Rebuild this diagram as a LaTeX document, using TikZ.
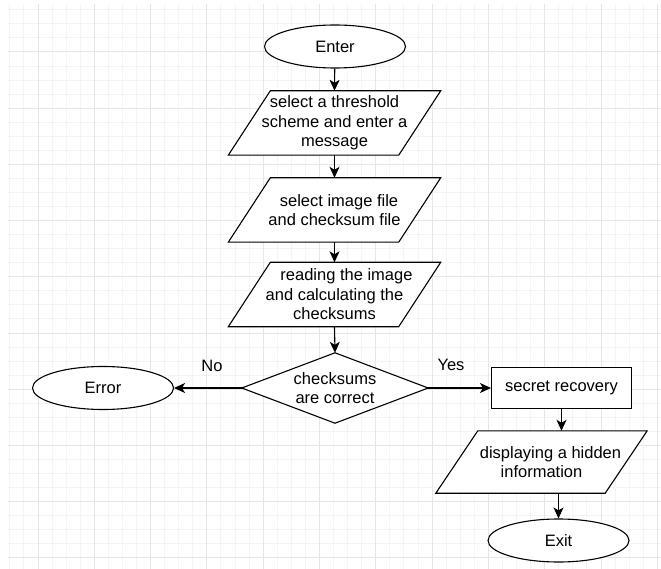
\documentclass[tikz,border=0pt]{standalone}
\usepackage{fontspec}
\setmainfont{Liberation Sans}
\usetikzlibrary{arrows.meta,shapes.geometric}
\pgfdeclarelayer{bg}
\pgfsetlayers{bg,main}
\definecolor{minorgrid}{HTML}{F4F4F4}
\definecolor{majorgrid}{HTML}{E6E6E6}
\newcommand\drawpara[1]{%
  \draw[shapeline,fill=white] ([xshift=21]#1.north west) -- ([xshift=21]#1.north east)
    -- ([xshift=-21]#1.south east) -- ([xshift=-21]#1.south west) -- cycle;}
\begin{document}
\begin{tikzpicture}[x=1pt,y=-1pt,
  every node/.style={font=\fontsize{16.5}{19.5}\selectfont, inner sep=0pt, align=center},
  shapeline/.style={draw=black, line width=1.1pt, line join=miter},
  terminal/.style={ellipse, shapeline, fill=white, minimum width=141pt, minimum height=43pt},
  parabox/.style={minimum width=170pt, minimum height=64pt},
  decisionbox/.style={minimum width=186pt, minimum height=70pt},
  procbox/.style={rectangle, shapeline, fill=white, minimum width=140pt, minimum height=41pt},
  flow/.style={draw=black, line width=1.1pt, -{Stealth[length=11pt,width=10pt,inset=3pt]}},
  lbl/.style={inner sep=0pt}
]
\useasboundingbox (0,0) rectangle (661,569);
\begin{pgfonlayer}{bg}
  \fill[white] (0,0) rectangle (661,569);
  \begin{scope}
    \clip (8,4) rectangle (661,569);
    \foreach \i in {-2,...,45} \draw[minorgrid, line width=1pt] ({38+\i*14.075},4) -- ({38+\i*14.075},569);
    \foreach \j in {-3,...,37} \draw[minorgrid, line width=1pt] (8,{52+\j*14.05}) -- (661,{52+\j*14.05});
    \foreach \i in {0,...,11} \draw[majorgrid, line width=1pt] ({38+\i*56.3},4) -- ({38+\i*56.3},569);
    \foreach \j in {0,...,9} \draw[majorgrid, line width=1pt] (8,{52+\j*56.2}) -- (661,{52+\j*56.2});
  \end{scope}
\end{pgfonlayer}

\node[terminal] (enter) at (335,46.5) {Enter};
\node[parabox] (p1) at (334.5,123) {select a threshold\\scheme and enter a\\message};
\node[parabox] (p2) at (334.5,210) {\hspace*{9pt}select image file\\and checksum file};
\node[parabox] (p3) at (334.5,294.5) {\hspace*{24pt}reading the image\\and calculating the\\checksums};
\node[decisionbox] (dec) at (335,388) {checksums\\are correct};
\node[terminal] (err) at (103,388) {Error};
\node[procbox] (rec) at (561.5,388) {secret recovery};
\node[parabox, minimum width=169pt, minimum height=62pt] (p4) at (541.5,462) {\hspace*{18pt}displaying a hidden\\information};
\node[terminal] (exit) at (558.5,540.5) {Exit};

\begin{pgfonlayer}{bg}
  \drawpara{p1}
  \drawpara{p2}
  \drawpara{p3}
  \drawpara{p4}
  \draw[shapeline,fill=white] (dec.north) -- (dec.east) -- (dec.south) -- (dec.west) -- cycle;
\end{pgfonlayer}

\draw[flow] (enter) -- (p1.north);
\draw[flow] (p1.south) -- (p2.north);
\draw[flow] (p2.south) -- (p3.north);
\draw[flow] (p3.south) -- (dec.north);
\draw[flow] (dec.west) -- (err.east);
\draw[flow] (dec.east) -- (rec.west);
\draw[flow] (rec.south) -- (rec.south |- p4.north);
\draw[flow] (exit.north |- p4.south) -- (exit.north);

\node[lbl] (no) at (212,366) {No};
\node[lbl] (yes) at (451,365) {Yes};
\end{tikzpicture}
\end{document}
